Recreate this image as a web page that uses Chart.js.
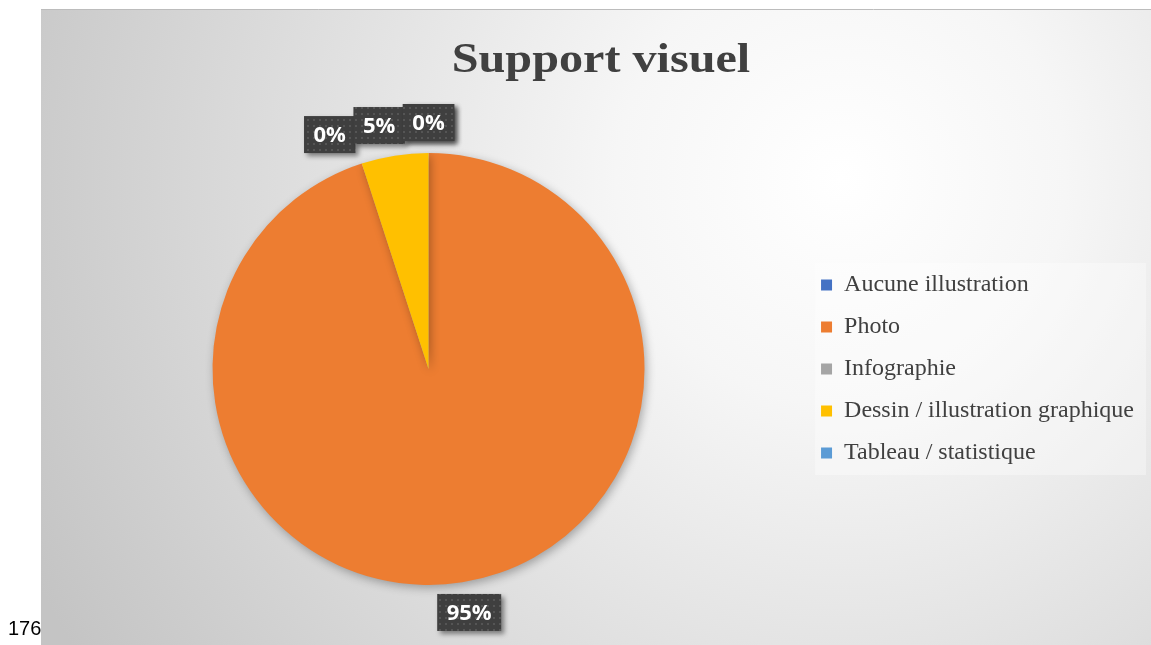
<!DOCTYPE html>
<html>
<head>
<meta charset="utf-8">
<script src="https://cdn.jsdelivr.net/npm/chart.js@4/dist/chart.umd.min.js"></script>
<style>
  body { margin: 0; background: #fff; width: 1151px; height: 645px; overflow: hidden; position: relative; }
  #panel { position: absolute; left: 41px; top: 9px; width: 1110px; height: 636px; }
  #pageNum { position: absolute; left: 8px; top: 617px; font: 20px "Liberation Sans", Arial, sans-serif; color: #000; }
</style>
</head>
<body>
<div id="panel"><canvas id="myChart" width="1110" height="636"></canvas></div>
<div id="pageNum">176</div>
<script>
// donnees du graphique
const categories = ["Aucune illustration", "Photo", "Infographie", "Dessin / illustration graphique", "Tableau / statistique"];
const valeurs = [0, 95, 0, 5, 0];
const etiquettes = ["0%", "95%", "0%", "5%", "0%"];
const couleurs = ["#4472c4", "#ed7d31", "#a5a5a5", "#ffc000", "#5b9bd5"];
const titre = "Support visuel";

// fond degrade du cadre + legende centree verticalement
const fondPlugin = {
  id: "fond",
  afterLayout(chart) {
    const lg = chart.legend;
    const cy = (chart.chartArea.top + chart.chartArea.bottom) / 2;
    lg.top = cy - 114;
    lg.height = 228;
    lg.bottom = lg.top + lg.height;
  },
  beforeDraw(chart) {
    const ctx = chart.ctx;
    const w = chart.width, h = chart.height;
    const g = ctx.createRadialGradient(800, 170, 0, 800, 170, 900);
    g.addColorStop(0, "#ffffff");
    g.addColorStop(0.25, "#f6f6f6");
    g.addColorStop(1, "#c4c4c4");
    ctx.save();
    ctx.fillStyle = g;
    ctx.fillRect(0, 0, w, h);
    ctx.strokeStyle = "#bcbcbc";
    ctx.beginPath(); ctx.moveTo(0, 0.5); ctx.lineTo(w, 0.5); ctx.stroke();
    // fond de la legende
    const lg = chart.legend;
    const cy = (chart.chartArea.top + chart.chartArea.bottom) / 2;
    ctx.fillStyle = "rgba(255,255,255,0.35)";
    ctx.fillRect(lg.left + 12, cy - 106, lg.right - lg.left - 10, 212);
    ctx.restore();
  },
  beforeDatasetsDraw(chart) {
    const ctx = chart.ctx;
    ctx.save();
    ctx.shadowColor = "rgba(0,0,0,0.3)";
    ctx.shadowBlur = 10;
    ctx.shadowOffsetX = 2;
    ctx.shadowOffsetY = 3;
  },
  afterDatasetsDraw(chart) {
    chart.ctx.restore();
  }
};

// titre un peu etire horizontalement (le bloc titre de Chart.js garde la place)
const titrePlugin = {
  id: "titreEtire",
  afterDraw(chart) {
    const ctx = chart.ctx;
    const tb = chart.titleBlock;
    ctx.save();
    ctx.font = "bold 43px 'Liberation Serif', 'Times New Roman', serif";
    ctx.fillStyle = "#404040";
    ctx.textAlign = "center";
    ctx.textBaseline = "alphabetic";
    ctx.translate((tb.left + tb.right) / 2 + 2, tb.top + 63);
    ctx.scale(1.12, 1);
    ctx.fillText(titre, 0, 0);
    ctx.restore();
  }
};

// motif a points pour les etiquettes
function motifPoints(ctx) {
  const c = document.createElement("canvas");
  c.width = 6; c.height = 6;
  const p = c.getContext("2d");
  p.fillStyle = "#3f3f3f";
  p.fillRect(0, 0, 6, 6);
  p.fillStyle = "#555555";
  p.fillRect(2, 2, 2, 2);
  return ctx.createPattern(c, "repeat");
}

// etiquettes de donnees (hors du secteur)
const etiquettesPlugin = {
  id: "etiquettes",
  afterDraw(chart) {
    const ctx = chart.ctx;
    const meta = chart.getDatasetMeta(0);
    ctx.save();
    ctx.font = "bold 22px 'Open Sans', sans-serif";
    const boites = [];
    meta.data.forEach((arc, i) => {
      const p = arc.getProps(["x", "y", "startAngle", "endAngle", "outerRadius"], true);
      const a = (p.startAngle + p.endAngle) / 2;
      const r = p.outerRadius + 12;
      const tw = ctx.measureText(etiquettes[i]).width;
      const bw = tw + 19, bh = 37;
      const dx = Math.cos(a), dy = Math.sin(a);
      boites.push({ i, cx: p.x + dx * r + dx * bw / 2, cy: p.y + dy * r + dy * bh / 2, bw, bh });
    });
    // eviter le chevauchement des etiquettes du haut (on decale vers la gauche)
    const haut = boites.filter(b => b.cy < meta.data[0].y).sort((a, b) => b.cx - a.cx);
    for (let k = 1; k < haut.length; k++) {
      const b = haut[k], prev = haut[k - 1];
      if (Math.abs(b.cx - prev.cx) < 1 && Math.abs(b.cy - prev.cy) < 1) continue;
      const maxCx = prev.cx - prev.bw / 2 + 2 - b.bw / 2;
      if (b.cx > maxCx) b.cx = maxCx;
    }
    const motif = motifPoints(ctx);
    boites.sort((a, b) => a.i - b.i).forEach(b => {
      const x = b.cx - b.bw / 2, y = b.cy - b.bh / 2;
      ctx.save();
      ctx.shadowColor = "rgba(0,0,0,0.45)";
      ctx.shadowBlur = 5;
      ctx.shadowOffsetX = 3;
      ctx.shadowOffsetY = 3;
      ctx.fillStyle = motif;
      ctx.fillRect(x, y, b.bw, b.bh);
      ctx.restore();
      ctx.fillStyle = "#ffffff";
      ctx.textAlign = "center";
      ctx.textBaseline = "middle";
      ctx.fillText(etiquettes[b.i], b.cx, b.cy + 1);
    });
    ctx.restore();
  }
};

const config = {
  type: "pie",
  data: {
    labels: categories,
    datasets: [{
      data: valeurs,
      backgroundColor: couleurs,
      borderWidth: 0
    }]
  },
  options: {
    responsive: false,
    animation: false,
    layout: { padding: { top: 0, bottom: 60, left: 13, right: 7 } },
    plugins: {
      title: {
        display: true,
        text: titre,
        color: "rgba(0,0,0,0)",
        font: { family: "'Liberation Serif', 'Times New Roman', serif", size: 48, weight: "bold", lineHeight: 1.2 },
        padding: { top: 22, bottom: 64.4 }
      },
      legend: {
        position: "right",
        labels: {
          color: "#404040",
          boxWidth: 11,
          boxHeight: 11,
          padding: 18,
          font: { family: "'Liberation Serif', 'Times New Roman', serif", size: 24 }
        }
      },
      tooltip: { enabled: false }
    }
  },
  plugins: [fondPlugin, titrePlugin, etiquettesPlugin]
};

new Chart(document.getElementById("myChart"), config);
</script>
</body>
</html>
